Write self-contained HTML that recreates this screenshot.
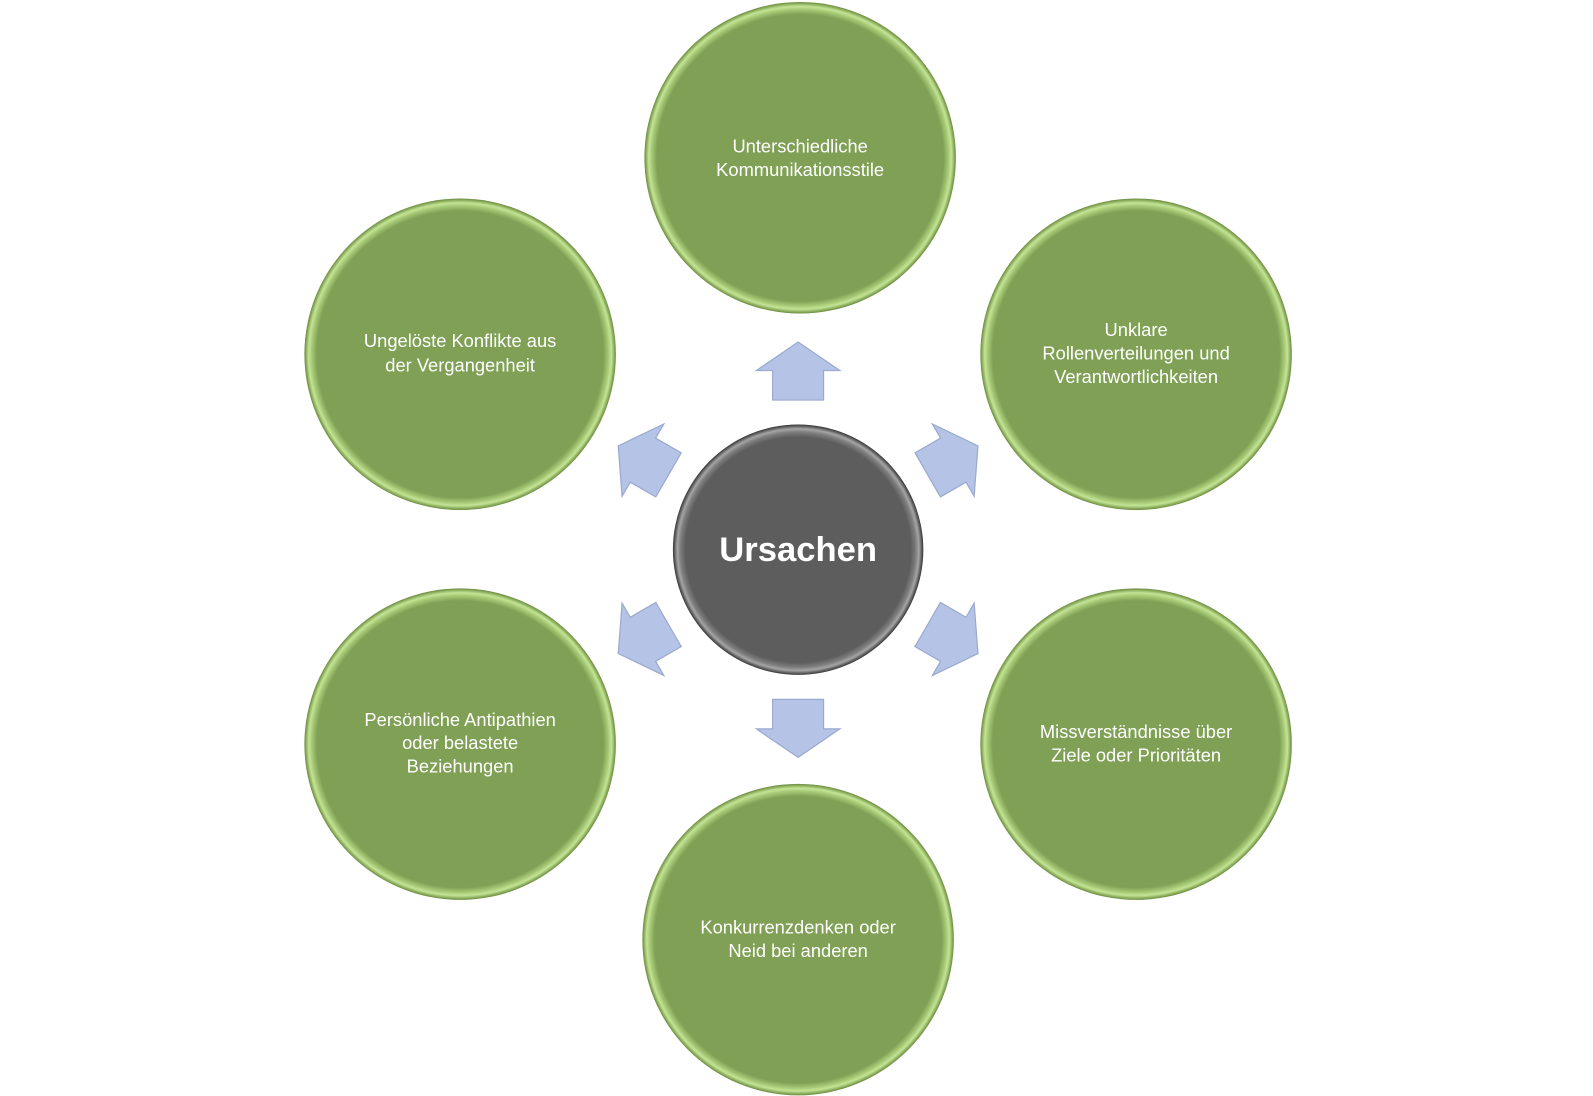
<!DOCTYPE html>
<html><head><meta charset="utf-8"><style>
html,body{margin:0;padding:0;background:#fff;}
svg{display:block;}
text{font-family:"Liberation Sans",sans-serif;fill:#fff;text-anchor:middle;}
</style></head><body>
<svg width="1593" height="1096" viewBox="0 0 1593 1096" xmlns="http://www.w3.org/2000/svg">
<defs>
<radialGradient id="g" cx="50%" cy="50%" r="50%">
<stop offset="0" stop-color="#7fa055"/>
<stop offset="0.92" stop-color="#7fa055"/>
<stop offset="0.95" stop-color="#a3c673"/>
<stop offset="0.972" stop-color="#c4e495"/>
<stop offset="0.99" stop-color="#89ab5a"/>
<stop offset="1" stop-color="#6a8a40"/>
</radialGradient>
<radialGradient id="c" cx="50%" cy="50%" r="50%">
<stop offset="0" stop-color="#5d5d5d"/>
<stop offset="0.9" stop-color="#5d5d5d"/>
<stop offset="0.94" stop-color="#7e7e7e"/>
<stop offset="0.965" stop-color="#a5a5a5"/>
<stop offset="0.99" stop-color="#555"/>
<stop offset="1" stop-color="#333"/>
</radialGradient>
<polygon id="a" points="0,-29 41,-1 25,-1 25,28 -25,28 -25,-1 -41,-1" fill="#b4c3e6" stroke="#9aa9cf" stroke-width="1.2"/>
</defs>
<g transform="scale(1.018)">
<circle cx="786" cy="155" r="153" fill="url(#g)"/>
<circle cx="452" cy="348" r="153" fill="url(#g)"/>
<circle cx="1116" cy="348" r="153" fill="url(#g)"/>
<circle cx="452" cy="731" r="153" fill="url(#g)"/>
<circle cx="1116" cy="731" r="153" fill="url(#g)"/>
<circle cx="784" cy="923" r="153" fill="url(#g)"/>
<circle cx="784" cy="540" r="123" fill="url(#c)"/>
<g transform="rotate(0 784 540)"><use href="#a" x="784" y="365"/></g>
<g transform="rotate(60 784 540)"><use href="#a" x="784" y="365"/></g>
<g transform="rotate(120 784 540)"><use href="#a" x="784" y="365"/></g>
<g transform="rotate(180 784 540)"><use href="#a" x="784" y="365"/></g>
<g transform="rotate(240 784 540)"><use href="#a" x="784" y="365"/></g>
<g transform="rotate(300 784 540)"><use href="#a" x="784" y="365"/></g>
<text x="784" y="551" font-size="34" font-weight="bold">Ursachen</text>
<g font-size="18">
<text x="786" y="150">Unterschiedliche</text>
<text x="786" y="173">Kommunikationsstile</text>
<text x="452" y="341">Ungelöste Konflikte aus</text>
<text x="452" y="365">der Vergangenheit</text>
<text x="1116" y="330">Unklare</text>
<text x="1116" y="353">Rollenverteilungen und</text>
<text x="1116" y="376">Verantwortlichkeiten</text>
<text x="452" y="713">Persönliche Antipathien</text>
<text x="452" y="736">oder belastete</text>
<text x="452" y="759">Beziehungen</text>
<text x="1116" y="725">Missverständnisse über</text>
<text x="1116" y="748">Ziele oder Prioritäten</text>
<text x="784" y="917">Konkurrenzdenken oder</text>
<text x="784" y="940">Neid bei anderen</text>
</g>
</g>
</svg>
</body></html>
